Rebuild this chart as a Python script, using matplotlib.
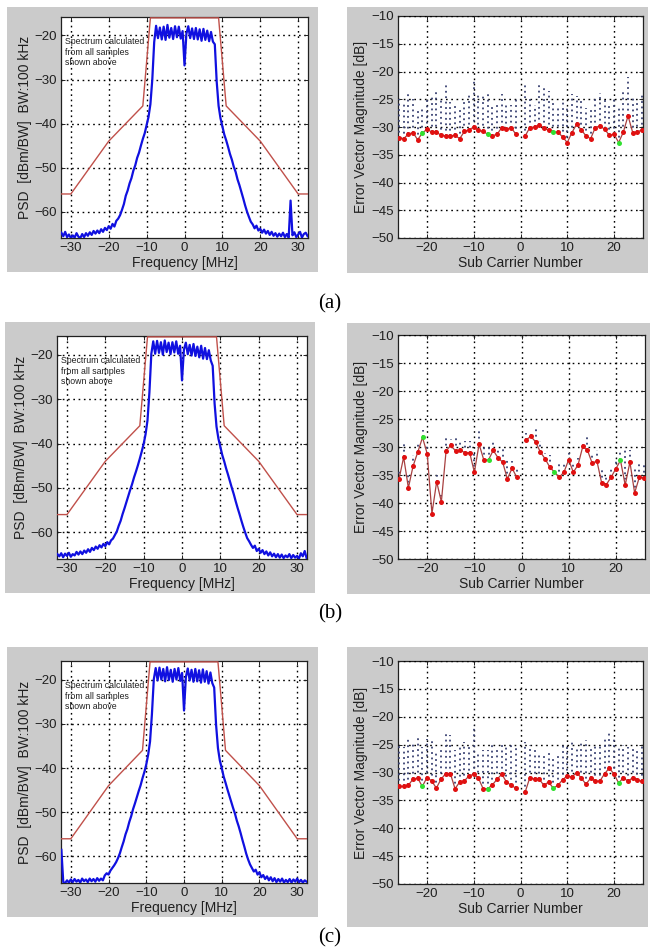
import numpy as np
import matplotlib
matplotlib.use("Agg")
import matplotlib.pyplot as plt
from matplotlib.patches import Rectangle

plt.rcParams['font.family'] = ['Liberation Sans', 'DejaVu Sans']

# ---------------- data ----------------
FREQ_START = -32.5
FREQ_STEP = 0.5

psd_a = [
    -64.8, -65.6, -64.6, -65.8, -65.2, -66.0, -65.4, -65.9, -64.9, -65.7,
    -66.0, -65.1, -65.8, -64.9, -65.5, -64.7, -65.3, -64.4, -65.0, -64.3,
    -64.9, -64.0, -64.6, -63.7, -64.2, -63.3, -63.9, -62.8, -63.4, -62.1,
    -61.6, -60.8, -59.6, -58.3, -56.4, -55.2, -53.6, -52.4, -50.7, -49.5,
    -47.8, -46.6, -45.0, -43.5, -42.2, -40.3, -38.5, -35.6, -30.0, -21.5,
    -17.8, -20.6, -18.2, -20.9, -18.0, -21.0, -17.6, -20.5, -18.3, -20.8,
    -17.9, -20.4, -18.0, -20.7, -19.0, -26.8, -19.6, -17.9, -20.6, -18.4,
    -20.8, -18.3, -20.9, -18.6, -21.2, -18.5, -21.0, -18.9, -21.3, -19.2,
    -21.4, -22.0, -30.5, -36.0, -38.8, -40.6, -42.5, -43.8, -45.3, -46.9,
    -48.2, -49.8, -51.0, -52.7, -54.0, -55.5, -57.0, -58.6, -60.0, -61.2,
    -62.3, -62.9, -63.8, -63.2, -64.3, -63.9, -64.8, -64.1, -65.0, -64.4,
    -65.3, -64.6, -65.5, -64.9, -65.7, -65.0, -65.6, -64.8, -65.8, -65.1,
    -65.9, -57.5, -65.4, -64.7, -65.8, -65.2, -64.6, -65.9, -65.1, -64.8,
    -65.6,
]
psd_b = [
    -64.9, -65.4, -64.7, -65.6, -64.8, -65.3, -64.6, -65.5, -64.9, -65.2,
    -64.4, -65.0, -64.3, -64.9, -64.1, -64.6, -63.8, -64.4, -63.5, -64.0,
    -63.2, -63.7, -62.9, -63.4, -62.6, -63.1, -62.2, -62.7, -61.8, -61.4,
    -60.6, -59.8, -58.5, -57.4, -55.9, -54.6, -53.2, -51.8, -50.4, -49.1,
    -47.6, -46.3, -44.9, -43.4, -41.8, -40.1, -37.9, -34.8, -28.5, -19.8,
    -17.0, -19.8, -16.9, -19.6, -17.2, -20.0, -16.8, -19.4, -17.3, -19.9,
    -17.2, -19.5, -17.0, -19.8, -18.0, -25.8, -18.9, -17.3, -19.9, -17.8,
    -20.2, -17.6, -20.3, -18.2, -20.6, -18.0, -20.9, -18.5, -21.0, -19.0,
    -21.3, -22.5, -31.0, -36.2, -38.9, -40.8, -42.6, -44.0, -45.6, -47.0,
    -48.5, -50.0, -51.4, -53.0, -54.5, -55.9, -57.4, -58.8, -60.1, -61.3,
    -62.0, -62.8, -63.5, -63.0, -64.2, -63.7, -64.6, -64.0, -64.9, -64.3,
    -65.2, -64.5, -65.4, -64.8, -65.6, -64.9, -65.7, -65.0, -65.8, -65.2,
    -65.6, -64.9, -65.8, -65.1, -65.7, -65.3, -65.9, -64.7, -65.4, -64.2,
    -65.8,
]
psd_c = [
    -58.5, -65.8, -66.0, -65.4, -65.9, -65.2, -65.8, -65.1, -65.7, -65.3,
    -65.9, -65.0, -65.6, -65.2, -65.8, -65.0, -65.6, -65.1, -65.7, -64.9,
    -65.5, -65.0, -65.4, -64.3, -63.8, -64.1, -63.2, -62.6, -62.0, -61.3,
    -60.4, -59.3, -57.9, -56.6, -55.0, -53.8, -52.2, -50.9, -49.3, -48.0,
    -46.6, -45.2, -43.9, -42.3, -40.9, -39.2, -37.0, -34.0, -27.8, -19.9,
    -17.4, -20.2, -17.3, -20.0, -17.6, -20.4, -17.2, -20.1, -17.8, -20.5,
    -17.6, -20.0, -17.4, -20.3, -18.5, -27.0, -19.4, -17.5, -20.2, -17.8,
    -20.5, -17.6, -20.4, -17.9, -20.7, -17.7, -20.5, -18.1, -20.9, -18.4,
    -20.8, -21.8, -30.2, -35.5, -38.3, -40.0, -41.9, -43.3, -44.8, -46.2,
    -47.6, -49.0, -50.3, -51.9, -53.2, -54.7, -56.3, -57.8, -59.4, -60.7,
    -61.8, -62.6, -63.4, -63.0, -64.1, -63.6, -64.7, -64.2, -65.1, -64.5,
    -65.4, -64.7, -65.6, -64.9, -65.8, -65.1, -65.7, -65.0, -65.9, -65.3,
    -65.8, -65.1, -65.9, -65.2, -65.7, -65.0, -65.8, -65.3, -65.9, -65.4,
    -65.7,
]

mask_freq = [-33, -30, -20, -11, -9, 9, 11, 20, 30, 33]
mask_level = [-56, -56, -44, -36, -16, -16, -36, -44, -56, -56]

subcarriers = list(range(-26, 0)) + list(range(1, 27))
pilots = [-21, -7, 7, 21]

evm_a = [-31.9, -32.1, -31.3, -31.0, -32.3, -31.1, -30.4, -30.9, -30.9, -31.5,
         -31.6, -31.6, -31.5, -32.1, -30.8, -30.5, -30.0, -30.6, -30.8, -31.3,
         -31.6, -31.3, -30.1, -30.4, -30.1, -31.3,
         -31.6, -30.1, -30.0, -29.7, -30.1, -30.6, -30.9, -30.9, -31.8, -32.8,
         -31.0, -29.5, -30.5, -31.6, -32.1, -30.1, -29.8, -30.4, -31.5, -31.3,
         -32.8, -30.9, -28.0, -31.0, -30.9, -30.5]
evm_a_top = [-25.0, -25.5, -23.8, -25.0, -27.0, -26.5, -25.0, -24.5, -23.5, -25.0,
             -22.2, -25.5, -26.0, -26.5, -25.0, -24.2, -21.5, -23.8, -24.0, -24.0,
             -26.0, -26.0, -24.0, -26.0, -26.0, -25.0,
             -22.5, -24.5, -26.0, -22.5, -22.8, -23.5, -25.5, -26.0, -25.5, -26.5,
             -24.0, -24.5, -25.0, -26.5, -26.5, -24.5, -23.8, -25.0, -26.0, -25.0,
             -26.5, -23.5, -21.0, -24.5, -25.5, -24.0]

evm_b = [-35.8, -31.8, -37.3, -33.4, -30.9, -28.3, -31.2, -41.9, -36.2, -39.8,
         -30.7, -29.7, -30.7, -30.6, -31.0, -31.0, -34.5, -29.5, -32.3, -32.3,
         -30.6, -31.9, -32.7, -35.7, -33.8, -35.4,
         -28.7, -28.1, -29.1, -30.9, -32.1, -33.6, -34.5, -35.4, -34.5, -32.3,
         -34.5, -33.2, -29.9, -30.6, -32.9, -32.5, -36.4, -36.7, -35.4, -33.9,
         -32.4, -36.8, -32.7, -38.2, -35.4, -35.5]
evm_b_top = [-34.0, -29.5, -35.0, -31.5, -29.5, -27.0, -29.5, -40.5, -35.0, -38.5,
             -28.0, -28.5, -28.0, -29.0, -29.0, -29.0, -31.0, -27.0, -30.0, -29.5,
             -29.0, -30.5, -30.0, -32.0, -32.5, -34.0,
             -27.5, -27.5, -26.2, -29.0, -31.0, -31.5, -33.5, -33.0, -33.0, -31.0,
             -33.0, -32.0, -29.5, -28.3, -31.0, -30.5, -34.0, -35.0, -34.0, -32.0,
             -30.5, -30.0, -30.5, -34.0, -33.0, -33.0]

evm_c = [-32.5, -32.5, -32.3, -31.2, -31.0, -32.5, -30.9, -31.5, -32.8, -31.2,
         -30.2, -30.2, -32.9, -31.7, -31.5, -30.6, -30.3, -31.0, -32.9, -32.9,
         -32.2, -31.2, -30.3, -31.7, -32.3, -32.8,
         -33.5, -30.9, -31.2, -31.2, -32.3, -31.7, -32.8, -32.3, -31.3, -30.6,
         -30.8, -30.0, -31.0, -32.1, -31.0, -31.6, -31.5, -30.2, -29.2, -30.3,
         -31.9, -30.9, -31.6, -30.9, -31.3, -31.6]
evm_c_top = [-25.0, -25.5, -24.0, -24.5, -23.5, -25.5, -24.0, -24.0, -26.5, -25.5,
             -23.0, -23.2, -26.0, -25.0, -24.5, -25.5, -21.5, -26.5, -26.0, -26.0,
             -25.0, -25.5, -24.5, -25.5, -24.5, -25.0,
             -24.5, -25.0, -26.0, -26.5, -27.0, -26.0, -27.5, -27.0, -25.0, -25.0,
             -24.5, -25.5, -24.5, -24.2, -25.5, -25.0, -25.0, -24.0, -22.5, -23.5,
             -25.5, -25.0, -25.5, -25.5, -26.0, -25.0]

psd_ticks_x = [-30, -20, -10, 0, 10, 20, 30]
psd_ticks_y = [-20, -30, -40, -50, -60]
evm_ticks_x = [-20, -10, 0, 10, 20]
evm_ticks_y = [-10, -15, -20, -25, -30, -35, -40, -45, -50]
captions = ['(a)', '(b)', '(c)']

# ---------------- layout ----------------
W, H = 652, 952
fig = plt.figure(figsize=(W / 100, H / 100), dpi=100)
fig.patch.set_facecolor('white')


def add_gray(x0, y0, x1, y1):
    fig.add_artist(Rectangle((x0 / W, 1 - y1 / H), (x1 - x0) / W, (y1 - y0) / H,
                             transform=fig.transFigure, facecolor='#cbcbcb',
                             edgecolor='none', zorder=-10))


def ax_at(x0, y0, x1, y1):
    return fig.add_axes([x0 / W, 1 - y1 / H, (x1 - x0) / W, (y1 - y0) / H])


GRID = dict(color='black', linestyle=(0, (1.2, 2.6)), linewidth=1.0)


def style(ax):
    ax.set_facecolor('white')
    for s in ax.spines.values():
        s.set_linewidth(0.9)
        s.set_color('#202020')
    ax.tick_params(direction='in', length=3, width=0.7, top=True, right=True,
                   labelsize=9.5, colors='#202020', pad=3)
    ax.grid(True, **GRID)
    ax.set_axisbelow(False)


gray_L = [(7, 7, 318, 272), (5, 322, 315, 593), (7, 647, 318, 917)]
gray_R = [(347, 7, 648, 273), (347, 323, 650, 594), (347, 647, 648, 927)]
axes_L = [(61, 17, 308, 238), (57, 336, 307, 559), (61, 661, 307, 883)]
axes_R = [(398, 16, 643, 238), (398, 335, 645, 559), (398, 661, 643, 884)]
cap_y = [304, 614, 938]

psds = [psd_a, psd_b, psd_c]
evms = [evm_a, evm_b, evm_c]
tops = [evm_a_top, evm_b_top, evm_c_top]

for k in range(3):
    add_gray(*gray_L[k])
    add_gray(*gray_R[k])

    # ---- spectrum ----
    ax = ax_at(*axes_L[k])
    style(ax)
    psd = psds[k]
    freq = FREQ_START + FREQ_STEP * np.arange(len(psd))
    ax.plot(mask_freq, mask_level, color='#c0504a', lw=1.0, zorder=3)
    ax.plot(freq, psd, color='#1010e0', lw=1.6, zorder=4)
    ax.set_xlim(-32.6, 32.6)
    ax.set_ylim(-66, -15.8)
    ax.set_xticks(psd_ticks_x)
    ax.set_yticks(psd_ticks_y)
    ax.set_xlabel('Frequency [MHz]', fontsize=10, labelpad=1, color='#202020')
    ax.set_ylabel('PSD  [dBm/BW]  BW:100 kHz', fontsize=10, labelpad=2, color='#202020')
    ax.text(-31.6, -20.3, 'Spectrum calculated\nfrom all samples\nshown above',
            fontsize=6.3, va='top', ha='left', linespacing=1.25, color='#202020', zorder=5)

    # ---- EVM ----
    ax2 = ax_at(*axes_R[k])
    style(ax2)
    ev = evms[k]
    tp = tops[k]
    ax2.vlines(subcarriers, ev, tp, colors='#3a4272', linestyles=(0, (1.0, 2.0)),
               linewidth=1.3, zorder=3)
    n_left = 26
    ax2.plot(subcarriers[:n_left], ev[:n_left], color='#a84040', lw=0.9, zorder=4)
    ax2.plot(subcarriers[n_left:], ev[n_left:], color='#a84040', lw=0.9, zorder=4)
    data_sc = [s for s in subcarriers if s not in pilots]
    data_ev = [v for s, v in zip(subcarriers, ev) if s not in pilots]
    pil_ev = [v for s, v in zip(subcarriers, ev) if s in pilots]
    ax2.plot(data_sc, data_ev, 'o', color='#e01010', ms=3.6, mec='none', zorder=5)
    ax2.plot(pilots, pil_ev, 'o', color='#30e030', ms=3.6, mec='none', zorder=5)
    ax2.set_xlim(-26.2, 26.2)
    ax2.set_ylim(-50, -10)
    ax2.set_xticks(evm_ticks_x)
    ax2.set_yticks(evm_ticks_y)
    ax2.set_xlabel('Sub Carrier Number', fontsize=10, labelpad=1, color='#202020')
    ax2.set_ylabel('Error Vector Magnitude [dB]', fontsize=10, labelpad=2, color='#202020')

    fig.text(330 / W, 1 - cap_y[k] / H, captions[k], ha='center', va='center',
             fontsize=15, family=['Liberation Serif', 'DejaVu Serif'])

fig.savefig('out.png', dpi=100, facecolor='white')
